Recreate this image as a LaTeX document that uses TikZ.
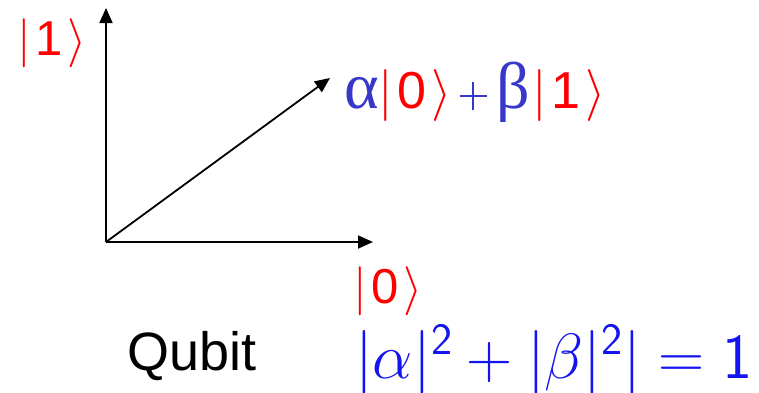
\documentclass[tikz,border=0pt]{standalone}
\usepackage{fix-cm}
\usepackage{fontspec}
\setmainfont{Liberation Sans}
\newfontfamily\greekfont{Liberation Serif}
\usetikzlibrary{arrows.meta}
\definecolor{ketred}{HTML}{FF0000}
\definecolor{coefblue}{HTML}{3838C8}
\definecolor{eqblue}{HTML}{1414F0}
\tikzset{
  axis/.style={line width=1.8pt, -{Triangle[length=15pt,width=13pt]}},
  ket/.style={text=ketred, font=\fontsize{49}{52}\selectfont, inner sep=0pt},
  lbl/.style={inner sep=0pt},
}
\newcommand{\myket}[1]{\textcolor{ketred}{$|$\kern0.08em#1\kern0.1em$\rangle$}}
\newcommand{\gk}[1]{{\greekfont\fontsize{66}{70}\selectfont #1}}
\newcommand{\thinplus}{\rlap{\rule[11.25pt]{27pt}{1.5pt}}\hspace{12.75pt}\rule[-2pt]{1.5pt}{28pt}\hspace{12.75pt}}
\begin{document}
\begin{tikzpicture}[x=1pt,y=-1pt]
\useasboundingbox (0,0) rectangle (759,392);
\coordinate (o) at (106,242);
\coordinate (up) at (106,8);
\coordinate (right) at (373,242);
\coordinate (diag) at (330,78);
\draw[axis] (o) -- (up);
\draw[axis] (o) -- (right);
\draw[axis] (o) -- (diag);
\node[ket, anchor=center] (k1) at (52,43) {\myket{1}};
\node[ket, anchor=center] (k0) at (388,291) {\myket{0}};
\node[lbl, anchor=base west, font=\fontsize{52}{56}\selectfont] (sup) at (344,108)
  {\textcolor{coefblue}{\gk{α}}\myket{0}\kern8pt\textcolor{coefblue}{\thinplus\kern10pt\gk{β}}\kern0.05em\myket{1}};
\node[lbl, anchor=base west, font=\fontsize{54}{58}\selectfont] (q) at (127,370) {Qubit};
\node[lbl, anchor=base west, text=eqblue, font=\fontsize{64}{68}\selectfont] (eq) at (355,378)
  {$|\alpha|^{\mathsf{2}}+|\beta|^{\mathsf{2}}| = \mathsf{1}$};
\end{tikzpicture}
\end{document}
